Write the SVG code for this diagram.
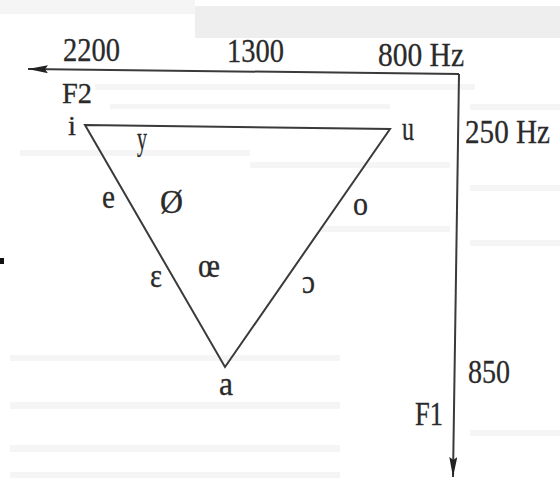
<svg xmlns="http://www.w3.org/2000/svg" width="560" height="502" viewBox="0 0 560 502">
  <defs>
    <marker id="arrow" viewBox="0 0 20 8" refX="20" refY="4" markerWidth="20" markerHeight="8" markerUnits="userSpaceOnUse" orient="auto">
      <path d="M0,0 L20,4 L0,8 L3,4 z" fill="#222"/>
    </marker>
    <style>
      .t { font-family: "Liberation Serif", "Times New Roman", serif; font-size: 33px; fill: #2a2a2a; stroke: #2a2a2a; stroke-width: 0.3; }
      .ln { stroke: #3a3a3a; stroke-width: 2; fill: none; }
      .bg { fill: #f5f5f5; }
    </style>
  </defs>
  <rect width="560" height="502" fill="#ffffff"/>
  <g id="background">
    <rect x="195" y="6" width="365" height="32" fill="#eeeeee"/>
    <rect x="0" y="0" width="195" height="14" class="bg"/>
    <rect x="95" y="84" width="380" height="6" class="bg"/>
    <rect x="110" y="104" width="280" height="5" class="bg"/>
    <rect x="470" y="104" width="90" height="6" class="bg"/>
    <rect x="20" y="150" width="230" height="6" class="bg"/>
    <rect x="250" y="162" width="200" height="6" class="bg"/>
    <rect x="470" y="185" width="90" height="6" class="bg"/>
    <rect x="320" y="226" width="130" height="6" class="bg"/>
    <rect x="470" y="240" width="90" height="6" class="bg"/>
    <rect x="10" y="355" width="330" height="6" class="bg"/>
    <rect x="10" y="402" width="330" height="7" class="bg"/>
    <rect x="10" y="445" width="330" height="7" class="bg"/>
    <rect x="10" y="472" width="330" height="6" class="bg"/>
    <rect x="470" y="430" width="90" height="6" class="bg"/>
    <rect x="0" y="258" width="4" height="6" fill="#111"/>
  </g>
  <g id="connectors">
    <path id="f2-axis" class="ln" d="M459,74 L28,69" marker-end="url(#arrow)"/>
    <path id="f1-axis" class="ln" d="M459,74 L453,477" marker-end="url(#arrow)"/>
    <path id="triangle" class="ln" d="M85,125 L390,129 L225,367 Z" stroke-linejoin="miter"/>
  </g>
  <g id="axis-labels">
    <text class="t" x="63" y="61" textLength="57" lengthAdjust="spacingAndGlyphs">2200</text>
    <text class="t" x="227" y="62" textLength="57" lengthAdjust="spacingAndGlyphs">1300</text>
    <text class="t" x="378" y="66" textLength="86" lengthAdjust="spacingAndGlyphs">800 Hz</text>
    <text class="t" x="62" y="103" style="font-size:30px" textLength="30" lengthAdjust="spacingAndGlyphs">F2</text>
    <text class="t" x="465" y="143" textLength="85" lengthAdjust="spacingAndGlyphs">250 Hz</text>
    <text class="t" x="468" y="383" textLength="42" lengthAdjust="spacingAndGlyphs">850</text>
    <text class="t" x="415" y="425" textLength="28" lengthAdjust="spacingAndGlyphs">F1</text>
  </g>
  <g id="vowel-i"><text class="t" x="68" y="135" style="font-size:28px" textLength="8" lengthAdjust="spacingAndGlyphs">i</text></g>
  <g id="vowel-u"><text class="t" x="402" y="140" textLength="12" lengthAdjust="spacingAndGlyphs">u</text></g>
  <g id="vowel-a"><text class="t" x="219" y="395" textLength="14" lengthAdjust="spacingAndGlyphs">a</text></g>
  <g id="vowel-y"><text class="t" x="137" y="150" textLength="10" lengthAdjust="spacingAndGlyphs">y</text></g>
  <g id="vowel-e"><text class="t" x="102" y="208" textLength="13" lengthAdjust="spacingAndGlyphs">e</text></g>
  <g id="vowel-oslash"><text class="t" x="160" y="213" textLength="23" lengthAdjust="spacingAndGlyphs">Ø</text></g>
  <g id="vowel-o"><text class="t" x="353" y="215" textLength="15" lengthAdjust="spacingAndGlyphs">o</text></g>
  <g id="vowel-epsilon"><text class="t" x="150" y="287" textLength="12" lengthAdjust="spacingAndGlyphs">ɛ</text></g>
  <g id="vowel-oe"><text class="t" x="198" y="277" textLength="22" lengthAdjust="spacingAndGlyphs">œ</text></g>
  <g id="vowel-open-o"><text class="t" x="302" y="293" textLength="13" lengthAdjust="spacingAndGlyphs">ɔ</text></g>
</svg>
